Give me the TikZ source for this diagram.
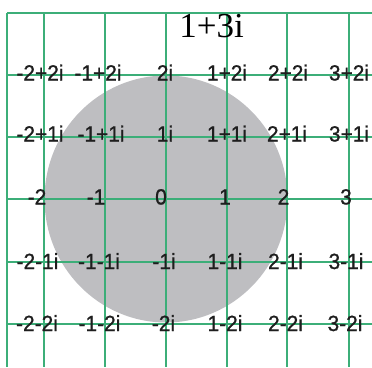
\documentclass[tikz,border=0pt]{standalone}
\usepackage{fontspec}
\setmainfont{Liberation Serif}
\newfontfamily\labfont[BoldFont={Liberation Sans}, BoldFeatures={FakeBold=0.9}]{Liberation Sans}
\definecolor{gridgreen}{RGB}{60,174,120}
\definecolor{discgray}{RGB}{190,190,193}
\definecolor{labgray}{RGB}{30,30,30}
\begin{document}
\begin{tikzpicture}[x=1pt,y=-1pt,
  gridline/.style={draw=gridgreen,line width=1.5pt},
  lab/.style={font=\labfont\bfseries\fontsize{22}{22}\selectfont, text=labgray, anchor=base, inner sep=0pt, xscale=0.95},
  titlelab/.style={font=\fontsize{35}{35}\selectfont, text=black, anchor=base, inner sep=0pt}]
\useasboundingbox (0,0) rectangle (372,367);
\fill[discgray] (166,199) ellipse [x radius=121.5pt, y radius=123.5pt];
\foreach \y in {13,75,137,199,262,324} \draw[gridline] (7,\y) -- (372,\y);
\foreach \x in {7,44,105,166,227,287,349} \draw[gridline] (\x,13) -- (\x,367);
\foreach \x/\y/\t/\n in {
  40/80.5/-2+2i/a1, 98/80.5/-1+2i/a2, 165/80.5/2i/a3, 227/80.5/1+2i/a4, 288/80.5/2+2i/a5, 349/80.5/3+2i/a6,
  40/141.5/-2+1i/b1, 101/141.5/-1+1i/b2, 165/141.5/1i/b3, 227/141.5/1+1i/b4, 287/141.5/2+1i/b5, 349/141.5/3+1i/b6,
  37/204.5/-2/c1, 96/204.5/-1/c2, 161/204.5/0/c3, 225/204.5/1/c4, 283.5/204.5/2/c5, 346/204.5/3/c6,
  37.5/269/-2-1i/d1, 99/269/-1-1i/d2, 164/269/-1i/d3, 225/269/1-1i/d4, 285.5/269/2-1i/d5, 346/269/3-1i/d6,
  37/331/-2-2i/e1, 99.5/331/-1-2i/e2, 163.5/331/-2i/e3, 225/331/1-2i/e4, 285.5/331/2-2i/e5, 345/331/3-2i/e6}
  \node[lab] (\n) at (\x,\y) {\t};
\node[titlelab] (title) at (211.5,37) {1+3i};
\end{tikzpicture}
\end{document}
